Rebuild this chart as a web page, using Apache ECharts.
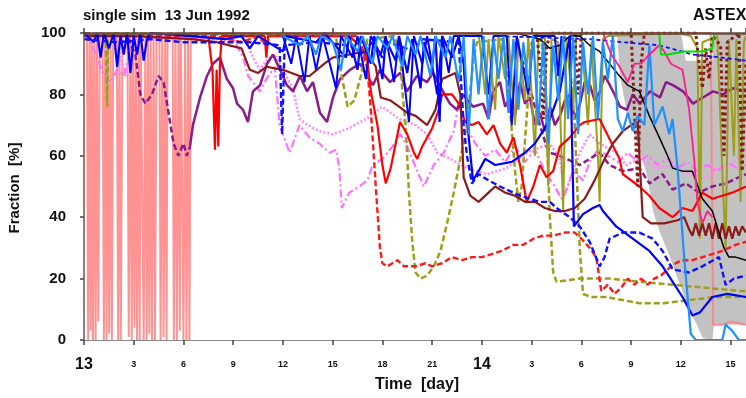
<!DOCTYPE html>
<html><head><meta charset="utf-8">
<script src="https://cdn.jsdelivr.net/npm/echarts@6/dist/echarts.min.js"></script>
<style>html,body{margin:0;padding:0;background:#fff}#c{width:746px;height:398px}</style>
</head><body><div id="c"></div>
<script>
// x values are hours since 13 Jun 00 UTC
const xTickLabels = ['13','3','6','9','12','15','18','21','14','3','6','9','12','15'];
const yTicks = [0,20,40,60,80,100];

const bandUpper = [[32.15,100],[36.0,100],[36.3,91],[37.9,91],[38.0,100],[39.93,100]];
const bandLower = [[32.15,100],[32.33,86],[32.75,74],[33.35,64.5],[33.95,54],[34.32,42],[34.74,35],[35.34,27],[35.95,18],[36.55,9],[36.97,5],[37.33,0.6],[37.9,0],[38.0,5],[39.93,5]];

const salmon = [[0,100],[0.18,100],[0.25,0],[0.33,100],[0.4,3],[0.47,100],[0.54,0],[0.62,100],[0.7,0],[0.78,100],[0.86,6],[0.95,100],[1.12,100],[1.2,0],[1.28,100],[1.36,0],[1.44,100],[1.52,2],[1.6,100],[1.68,0],[1.76,100],[1.98,100],[2.06,0],[2.14,100],[2.22,0],[2.32,100],[2.62,100],[2.7,1],[2.8,100],[2.88,0],[2.96,100],[3.04,4],[3.12,100],[3.2,0],[3.3,100],[3.36,0],[3.42,100],[3.54,100],[3.6,0],[3.7,100],[3.78,0],[3.86,100],[3.94,2],[4.02,100],[4.1,0],[4.2,100],[4.28,0],[4.38,100],[4.55,100],[4.62,0],[4.72,100],[4.8,1],[4.9,100],[4.98,0],[5.04,100],[5.35,100],[5.42,0],[5.52,100],[5.6,0],[5.7,100],[5.78,3],[5.84,100],[5.95,100],[6.0,0],[6.1,100],[6.18,0],[6.28,100],[6.36,0],[6.44,100],[37.8,100],[37.95,5],[38.5,5],[39.0,6],[39.93,5]];

const pinkDot = [[2.0,99],[2.2,92],[2.5,86],[2.7,90],[2.9,97],[6,99],[9.8,97],[10.2,92],[10.6,88],[11.0,91],[11.5,93],[12.0,88],[12.6,82],[13.0,72],[13.5,70],[14.2,68],[15.0,67],[16.0,69],[17.0,72],[18.0,76],[19.0,72],[20.0,70],[20.7,67],[21.3,61],[22.1,59],[23.1,56],[24.3,54],[25.5,56],[26.7,61],[28.1,64],[28.7,59],[29.0,47],[29.3,52],[29.9,61],[30.5,67],[31.1,64],[32.1,61],[32.7,57],[33.5,59],[34.5,56],[35.5,57],[36.5,54],[37.5,53],[38.3,56],[39.1,57],[39.7,61],[39.93,62]];

const pinkDash = [[0,100],[0.4,97],[0.8,92],[1.2,86],[1.6,84],[2.0,88],[2.4,86],[2.8,95],[3.2,99],[9.0,98],[9.6,92],[9.9,86],[10.2,84],[10.6,81],[11.0,85],[11.5,89],[11.8,70],[12.2,64],[12.4,61],[12.8,67],[13.0,70],[13.6,66],[14.2,64],[14.8,61],[15.2,62],[15.4,56],[15.55,43],[16.0,48],[16.6,50],[17.1,52],[17.4,57],[18.0,59],[18.6,63],[19.1,67],[19.5,63],[20.1,55],[20.5,50],[21.1,57],[21.7,61],[22.3,68],[22.6,77],[23.0,70],[23.6,64],[24.2,60],[24.8,62],[25.4,58],[26.0,63],[26.6,58],[27.2,62],[27.8,55],[28.4,50],[28.8,46],[29.1,49],[29.5,55],[30.1,52],[30.5,58],[31.0,62],[31.6,60],[32.2,58],[32.8,61],[33.4,58],[34.0,60],[34.6,57],[35.2,59],[35.8,56],[36.4,58],[37.0,55],[37.6,57],[38.2,55],[38.8,58],[39.4,56],[39.93,57]];

const purpleDash = [[0,100],[2.6,99],[3.1,93],[3.4,80],[3.7,77],[4.1,80],[4.5,86],[4.8,84],[5.1,74],[5.4,64],[5.7,60],[6.0,64],[6.2,60],[6.4,63]];
const purpleDash2 = [[26.0,97],[26.5,90],[27.0,80],[27.5,70],[27.9,63],[28.1,61],[28.7,60],[29.9,57],[31.1,61],[31.7,57],[32.5,55],[33.5,56],[34.1,51],[34.9,54],[35.5,49],[36.3,51],[37.1,48],[37.9,50],[38.7,51],[39.5,53],[39.93,54]];

const purpleSolid = [[6.39,63],[6.57,70],[7.0,79],[7.42,86],[7.78,90],[8.2,92],[8.62,85],[8.99,82],[9.23,77],[9.59,75],[9.89,71],[10.19,81],[10.62,83],[11.04,90],[11.4,93],[11.82,88],[12.24,83],[12.61,81],[13.03,86],[13.45,81],[13.81,84],[14.23,74],[14.66,71],[15.02,79],[15.44,85],[16.04,88],[16.65,90],[17.07,86],[17.43,83],[17.85,88],[18.46,84],[19.06,87],[19.48,81],[20.08,86],[20.69,84],[21.05,87],[21.65,81],[22.07,77],[22.5,75],[22.86,80],[23.46,76],[24.07,77],[24.4,72],[24.67,81],[25.09,84],[25.4,76],[25.69,79],[26.0,73],[26.3,84],[26.6,77],[26.9,79],[27.2,70],[27.5,74],[27.8,68],[28.11,76],[28.4,70],[28.71,73],[29.0,78],[29.31,80],[29.6,72],[29.92,77],[30.2,84],[30.52,83],[30.8,78],[31.12,81],[31.4,86],[31.72,83],[32.0,80],[32.33,76],[32.75,75],[33.1,80],[33.53,77],[34.14,81],[34.74,79],[35.1,84],[35.52,83],[36.13,81],[36.73,77],[37.33,79],[37.94,81],[38.54,80],[39.14,82],[39.93,81]];

const oliveDash1 = [[1.3,100],[1.4,76],[1.45,100],[15.2,99],[15.44,89],[15.9,76],[16.3,78],[16.7,86],[17.1,98],[18.7,99],[19.06,94],[19.2,81],[19.4,70],[19.6,48],[19.8,32],[20.0,22],[20.3,20],[20.7,21],[21.1,24],[21.5,29],[21.9,38],[22.3,48],[22.7,59],[23.1,70],[23.3,81],[23.5,92],[23.7,97],[25.3,98],[25.7,75],[26.0,55],[26.2,45],[26.4,50],[26.8,80],[27.0,97],[27.6,98],[27.9,70],[28.1,40],[28.3,22],[28.5,19],[29.9,20],[31.7,20],[33.5,19],[35.5,18],[37.5,17],[39.5,16],[39.93,16]];
const oliveDash2 = [[28.9,99],[29.2,98],[29.6,70],[29.9,30],[30.1,15],[30.6,14],[31.5,14],[32.5,13],[33.5,12],[35,12],[36.5,13],[38,14],[39.93,14]];
const oliveSolid = [[23.8,100],[24.2,80],[24.4,98],[24.8,75],[25.0,99],[25.4,85],[25.6,99],[26.0,70],[26.2,98],[26.6,78],[26.8,99],[27.2,60],[27.4,97],[27.8,99],[28.0,50],[28.2,98],[28.6,97],[28.9,42],[29.1,98],[29.5,75],[29.7,99],[30.0,99],[30.4,70],[30.6,97],[31.0,60],[31.1,45],[31.3,98],[31.6,99],[35.8,100],[36.6,99],[37.0,95],[37.15,33],[37.3,97],[38.2,99],[38.5,55],[38.7,30],[38.9,98],[39.2,60],[39.35,98],[39.6,45],[39.8,97],[39.93,99]];

const redSolid = [[7.5,99],[7.75,88],[7.9,62],[8.0,88],[8.1,63],[8.2,90],[8.3,99],[10.9,99],[11.0,92],[11.1,99],[16.0,99],[16.6,96],[17.07,92],[17.3,81],[17.7,70],[18.0,57],[18.2,51],[18.5,56],[18.8,64],[19.06,71],[19.5,67],[19.9,61],[20.1,59],[20.4,63],[21.0,69],[21.4,75],[21.6,80],[22.2,80],[22.6,77],[23.0,71],[23.4,70],[23.8,71],[24.3,67],[24.7,70],[25.1,64],[25.5,61],[25.9,66],[26.3,57],[26.7,45],[27.1,50],[27.5,57],[27.9,53],[28.3,55],[28.7,63],[29.3,66],[29.9,70],[30.2,71],[31.1,72],[32.3,59],[32.5,54],[33.5,50],[34.1,47],[34.7,43],[35.5,40],[36.1,43],[36.7,42],[37.3,48],[37.9,46],[38.5,47],[39.1,48],[39.93,50]];
const redDash = [[0,99],[8,99],[9.5,97],[10.5,99],[11.0,96],[11.2,99],[16.5,99],[16.8,95],[17.1,88],[17.3,75],[17.6,50],[17.85,30],[18.0,25],[18.3,24],[18.9,26],[19.3,24],[20.0,24],[20.6,25],[21.0,24],[21.6,25],[22.2,27],[22.8,26],[23.4,27],[24.0,27],[24.6,28],[25.2,29],[25.9,31],[26.5,31],[27.1,33],[27.7,34],[28.3,34],[29.0,35],[29.6,35],[30.0,33],[30.5,30],[30.9,27],[31.2,16],[31.6,18],[32.0,15],[32.4,17],[32.8,20],[33.2,18],[33.6,20],[34.0,18],[34.4,20],[34.8,21],[35.4,24],[36.0,26],[36.7,26],[37.3,27],[37.9,28],[38.5,29],[39.3,31],[39.93,32]];

const maroonSolid = [[0,99],[3,99],[6.5,98],[8,97],[9.5,95],[10.0,88],[10.5,87],[11,89],[12,88],[13.0,86],[13.6,86],[14.5,90],[15.0,92],[16.0,93],[17.0,94],[17.6,89],[17.9,79],[18.5,78],[19.0,76],[19.5,74],[20.0,73],[20.7,70],[21.2,75],[21.6,85],[22.4,87],[22.7,80],[22.9,53],[23.3,47],[23.8,45],[24.4,48],[24.8,50],[25.4,48],[26.0,47],[26.6,45],[27.2,45],[27.8,43],[28.4,42],[29.0,42],[29.6,43],[30.2,46],[30.8,52],[31.4,59],[31.9,64],[32.5,68],[33.0,70],[33.4,71],[33.55,55],[33.7,40],[34.2,38],[35.0,38],[35.8,39],[36.2,40],[36.5,36],[36.7,34],[36.9,38],[37.1,34],[37.3,38],[37.5,34],[37.7,38],[37.9,33],[38.1,38],[38.3,33],[38.5,38],[38.7,33],[38.9,37],[39.1,33],[39.3,37],[39.5,34],[39.7,37],[39.93,35]];
const maroonDash = [[27.3,100],[27.5,90],[27.7,72],[27.9,95],[28.1,100],[29.6,100],[29.8,80],[30.0,100],[33.0,100],[33.2,75],[33.4,50],[33.6,90],[33.8,100],[36.9,100],[37.1,90],[37.3,82],[37.5,95],[37.7,85],[37.9,99],[38.4,96],[38.6,60],[38.8,97],[39.5,100],[39.7,55],[39.93,90]];

const blackSolid = [[26,100],[27.5,98],[28.1,95],[28.7,96],[29.3,99],[29.9,99],[30.5,96],[31.1,94],[31.7,90],[32.3,86],[32.8,83],[33.5,81],[34.1,73],[34.7,66],[35.2,60],[35.5,56],[36.1,55],[36.7,55],[37.3,46],[37.9,42],[38.3,35],[38.6,30],[38.9,27],[39.3,27],[39.93,26]];

const blueSolid = [[0,100],[0.6,97],[0.8,100],[1.0,92],[1.2,100],[1.5,95],[1.8,100],[2.0,89],[2.2,99],[2.4,93],[2.6,100],[2.8,87],[3.0,99],[3.2,93],[3.4,100],[3.6,91],[3.8,98],[4.0,100],[6.5,99],[8.5,98],[9.5,99],[10.0,95],[10.5,99],[12.0,94],[12.2,99],[14.0,97],[14.5,100],[15.8,92],[16.0,99],[16.5,88],[16.7,99],[17.3,90],[17.5,99],[18.0,85],[18.2,98],[18.8,91],[19.0,99],[19.5,87],[19.8,98],[20.3,82],[20.5,97],[21.0,89],[21.2,99],[21.45,71],[21.6,99],[22.2,92],[22.6,99],[22.9,90],[23.1,72],[23.46,52],[23.8,55],[24.2,59],[24.8,57],[25.8,58],[26.6,61],[27.2,64],[27.8,69],[28.1,72],[28.7,81],[29.3,99],[29.55,37],[30.1,41],[30.7,43],[31.1,44],[31.3,42],[32.1,37],[33.1,33],[34.1,29],[34.9,24],[35.5,19],[36.1,14],[36.7,8],[37.15,9],[37.9,14],[38.8,15],[39.93,14]];
const blueSolid2 = [[12,99],[12.5,90],[12.8,99],[13.3,84],[13.6,99],[14.0,88],[14.4,99],[15.2,82],[15.5,99],[16.2,92],[16.5,99],[17.0,85],[17.3,99],[17.9,93],[18.2,99],[18.7,84],[19.0,99],[19.6,71],[19.9,99],[20.4,90],[20.7,99],[21.3,80],[21.6,99],[22.0,87],[22.3,99],[24.0,99],[24.4,80],[24.7,99],[25.5,99],[25.8,70],[26.1,99],[26.8,80],[27.1,99],[28.4,99],[28.6,86],[28.8,99]];
const blueDash = [[0,98],[2,97],[4,98],[6,97],[8,97],[10,97],[11.8,96],[11.95,67],[12.1,96],[14,97],[16,96],[17,93],[17.3,97],[18,92],[18.3,97],[20,94],[20.3,98],[22.6,97],[22.9,70],[23.1,60],[23.4,51],[23.8,54],[24.4,52],[25.1,50],[26.3,47],[26.9,46],[27.5,45],[28.1,45],[28.5,43],[29.3,40],[29.9,37],[30.5,32],[31.1,24],[31.4,27],[31.7,33],[32.5,35],[33.5,35],[34.3,33],[34.9,29],[35.5,23],[36.5,22],[37.3,24],[38.3,27],[38.7,18],[39.2,20],[39.93,21]];
const blueDash2 = [[25,99],[30.5,98],[32.5,97],[34.7,96],[36.7,93],[38.5,92],[39.93,91]];

const dodger = [[12,99],[13,96],[13.5,99],[14,93],[14.3,99],[15,97],[15.5,88],[15.8,99],[16.5,94],[16.8,99],[17.4,90],[17.7,99],[18.3,95],[18.6,99],[19.2,89],[19.5,99],[20.0,93],[20.3,99],[20.9,86],[21.2,99],[21.8,92],[22.1,99],[22.6,84],[22.9,99],[23.2,67],[23.5,98],[23.8,80],[24.1,99],[24.4,72],[24.7,98],[25.0,85],[25.3,99],[25.6,74],[25.9,98],[26.2,75],[26.5,97],[26.8,82],[27.1,99],[27.4,70],[27.7,97],[28.0,64],[28.3,96],[28.6,78],[28.9,99],[29.2,72],[29.5,99],[29.8,67],[30.1,97],[30.4,80],[30.7,99],[31.0,72],[31.3,97],[31.6,85],[31.9,99],[32.2,72],[32.5,68],[32.8,74],[33.1,68],[33.4,73],[33.8,70],[34.1,96],[34.4,70],[34.9,76],[35.3,67],[35.5,72],[35.8,56],[36.2,27],[36.6,2],[36.9,0],[38.5,0],[38.7,5],[39.1,3],[39.5,0],[39.93,0]];

const hotPink = [[31.3,100],[31.8,93],[32.3,89],[32.8,84],[33.2,90],[33.6,90],[34.1,93],[34.7,96],[35.0,94],[35.4,90],[36.1,88],[36.5,75],[36.8,59],[37.0,45],[37.3,38],[37.6,42],[37.9,40]];
const green = [[34.7,100],[34.8,93],[35.2,93],[36.2,94],[37.3,94],[37.9,95],[38.0,100]];

const FONT = 'Liberation Sans, Arial, sans-serif';
function ln(name, data, color, width, type, opacity) {
  return {name, type:'line', data, symbol:'none', showSymbol:false, animation:false,
    lineStyle:{color, width, type: type || 'solid', opacity: opacity==null?1:opacity}, z:2};
}
const chart = echarts.init(document.getElementById('c'), null, {renderer:'canvas'});
chart.setOption({
  animation:false,
  backgroundColor:'#fff',
  grid:{left:84, right:0, top:33, bottom:58, containLabel:false},
  xAxis:[{type:'value', min:0, max:39.93, interval:3, position:'bottom', z:5,
    axisLine:{show:true, lineStyle:{color:'#888', width:1}},
    axisTick:{show:true, length:5, inside:false, lineStyle:{color:'#444', width:1.5}},
    splitLine:{show:false},
    axisLabel:{margin:17, showMaxLabel:false,
      formatter:function(v){ const i=Math.round(v/3); if (Math.abs(v-i*3)>1e-6) return ''; const t=xTickLabels[i]||''; return (i%8===0)?'{b|'+t+'}':'{s|'+t+'}'; },
      rich:{b:{fontFamily:FONT,fontWeight:'bold',fontSize:16,lineHeight:16,color:'#111'},
            s:{fontFamily:FONT,fontWeight:'bold',fontSize:9,lineHeight:16,color:'#111'}}}},
   {type:'value', min:0, max:39.93, interval:3, position:'top', z:5,
    axisLine:{show:true, lineStyle:{color:'#6b4c3b', width:2.5}},
    axisTick:{show:true, length:5, inside:false, lineStyle:{color:'#444', width:1.5}},
    splitLine:{show:false}, axisLabel:{show:false}}],
  yAxis:{type:'value', min:0, max:100, interval:20, z:5,
    axisLine:{show:true, lineStyle:{color:'#8a4a4a', width:1.5}},
    axisTick:{show:true, length:4, lineStyle:{color:'#444', width:1.5}},
    splitLine:{show:false},
    axisLabel:{margin:18, fontFamily:FONT, fontWeight:'bold', fontSize:15, color:'#111',
      formatter:function(v){ return yTicks.indexOf(v)>=0 ? String(v) : ''; }}},
  graphic:[
    {type:'text', left:83, top:8, style:{text:'single sim  13 Jun 1992', font:'bold 15px '+FONT, fill:'#111'}},
    {type:'text', left:693, top:8, style:{text:'ASTEX', font:'bold 16px '+FONT, fill:'#111'}},
    {type:'text', left:375, top:377, style:{text:'Time  [day]', font:'bold 16px '+FONT, fill:'#111'}},
    {type:'text', x:15, y:188, rotation:Math.PI/2, style:{text:'Fraction  [%]', font:'bold 15px '+FONT, fill:'#111', textAlign:'center', textVerticalAlign:'middle'}}
  ],
  series:[
    {type:'custom', name:'band', data:[bandUpper[0]], z:1, silent:true, animation:false,
      renderItem:function(params, api){
        const pts = bandUpper.map(p=>api.coord(p)).concat(bandLower.slice().reverse().map(p=>api.coord(p)));
        return {type:'polygon', shape:{points:pts}, style:{fill:'#c2c2c2'}};
      }},
    ln('salmon', salmon, '#ff7f7f', 2, 'solid', 0.85),
    ln('pinkDot', pinkDot, '#ff88ff', 2.5, [2,2]),
    ln('pinkDash', pinkDash, '#ff70ff', 2.2, [8,3,2,3]),
    ln('purpleDash', purpleDash, '#8b1a8b', 2.5, [6,3]),
    ln('purpleDash2', purpleDash2, '#8b1a8b', 2.5, [6,3]),
    ln('purpleSolid', purpleSolid, '#8b1a8b', 2.5),
    ln('oliveDash1', oliveDash1, '#9e9e1e', 2.5, [6,3]),
    ln('oliveDash2', oliveDash2, '#9e9e1e', 2.5, [6,3]),
    ln('oliveSolid', oliveSolid, '#9e9e1e', 2),
    ln('redSolid', redSolid, '#ff0000', 2.2),
    ln('redDash', redDash, '#ff1a1a', 2.4, [6,3]),
    ln('maroonSolid', maroonSolid, '#8b1a1a', 2.2),
    ln('maroonDash', maroonDash, '#8b1a1a', 3, [3,3]),
    ln('black', blackSolid, '#000000', 1.5),
    ln('blueSolid', blueSolid, '#0000ff', 2.2),
    ln('blueSolid2', blueSolid2, '#0000ff', 2),
    ln('blueDash', blueDash, '#1010ff', 2.4, [6,3]),
    ln('blueDash2', blueDash2, '#1010ff', 1.8, [4,3]),
    ln('dodger', dodger, '#1e90ff', 2.2),
    ln('hotPink', hotPink, '#ff1e8c', 1.8),
    ln('green', green, '#00e000', 2)
  ]
});
</script></body></html>
